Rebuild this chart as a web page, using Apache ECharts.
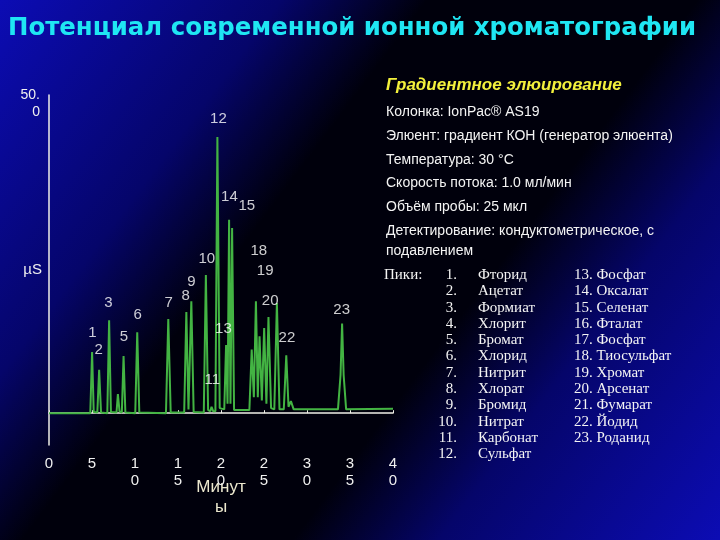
<!DOCTYPE html>
<html>
<head>
<meta charset="utf-8">
<script src="https://cdn.jsdelivr.net/npm/echarts@6/dist/echarts.min.js"></script>
<style>
  html, body { margin: 0; padding: 0; background: #000; }
  #chart { width: 720px; height: 540px; }
</style>
</head>
<body>
<div id="chart"></div>
<script>
  // chromatogram trace: [minutes, µS]
  var chromatogram = [
    [0, 0], [4.8, 0], [5.01, 9.6], [5.2, 0.2], [5.62, 0.1], [5.83, 6.8], [6.05, 0.1],
    [6.78, 0], [6.99, 14.6], [7.2, 0.2], [7.85, 0.1], [8.01, 3.0], [8.2, 0.3],
    [8.47, 0.1], [8.67, 9.0], [8.88, 0.1], [10.03, 0], [10.26, 12.7], [10.5, 0.1],
    [13.6, 0], [13.87, 14.8], [14.15, 0.1], [15.72, 0.1], [15.97, 15.9], [16.22, 0.6],
    [16.55, 17.6], [16.82, 0.2], [18.0, 0.1], [18.24, 21.7], [18.5, 0.5], [18.75, 0.3],
    [18.9, 1.0], [19.1, 0.3], [19.35, 0.3], [19.58, 43.4], [19.85, 0.8], [20.38, 0.6],
    [20.59, 10.7], [20.76, 1.5], [20.94, 30.4], [21.1, 1.5], [21.29, 29.1], [21.52, 0.5],
    [23.3, 0.5], [23.57, 10.0], [23.82, 2.5], [24.06, 17.6], [24.28, 2.5], [24.48, 12.1],
    [24.75, 2.0], [25.02, 13.4], [25.28, 1.5], [25.52, 15.1], [25.82, 0.8], [26.2, 0.6],
    [26.5, 17.3], [26.8, 0.6], [27.3, 0.6], [27.59, 9.1], [27.85, 1.0], [28.13, 1.9],
    [28.45, 0.6], [33.6, 0.6], [33.9, 6], [34.08, 14.1], [34.26, 6], [34.55, 0.6], [40, 0.7]
  ];

  // peak number labels: [minutes, µS, text]
  var peakLabels = [
    [5.06, 12.7, '1'], [5.79, 10.0, '2'], [6.92, 17.3, '3'], [8.71, 12.0, '5'],
    [10.3, 15.5, '6'], [13.91, 17.4, '7'], [15.9, 18.5, '8'], [16.55, 20.7, '9'],
    [18.34, 24.2, '10'], [19.0, 5.2, '11'], [19.7, 46.2, '12'], [20.28, 13.2, '13'],
    [20.98, 34.0, '14'], [23.0, 32.6, '15'], [24.4, 25.5, '18'], [25.14, 22.3, '19'],
    [25.72, 17.6, '20'], [27.67, 11.9, '22'], [34.03, 16.3, '23']
  ];

  var xTickValues = [0, 5, 10, 15, 20, 25, 30, 35, 40];
  var xTickLabels = ['0', '5', '1\n0', '1\n5', '2\n0', '2\n5', '3\n0', '3\n5', '4\n0'];

  var infoTitle = 'Градиентное элюирование';
  var infoLines = [
    'Колонка: IonPac® AS19',
    'Элюент: градиент КОН (генератор элюента)',
    'Температура: 30 °C',
    'Скорость потока: 1.0 мл/мин',
    'Объём пробы: 25 мкл',
    'Детектирование: кондуктометрическое, с',
    'подавлением'
  ];
  var infoLineY = [112, 136, 160, 183, 207, 231, 251];

  var peakNamesLeft = ['Фторид', 'Ацетат', 'Формиат', 'Хлорит', 'Бромат', 'Хлорид',
    'Нитрит', 'Хлорат', 'Бромид', 'Нитрат', 'Карбонат', 'Сульфат'];
  var peakNamesRight = ['Фосфат', 'Оксалат', 'Селенат', 'Фталат', 'Фосфат', 'Тиосульфат',
    'Хромат', 'Арсенат', 'Фумарат', 'Йодид', 'Роданид'];

  var sans = "'Liberation Sans', Arial, sans-serif";
  var serif = "'Liberation Serif', 'Times New Roman', serif";

  var graphics = [];
  graphics.push({
    type: 'text', x: 386, y: 85,
    style: { text: infoTitle, fill: '#f2f03c', font: 'italic bold 17px ' + sans, verticalAlign: 'middle' }
  });
  infoLines.forEach(function (line, i) {
    graphics.push({
      type: 'text', x: 386, y: infoLineY[i],
      style: { text: line, fill: '#f4f4f4', font: '14px ' + sans, verticalAlign: 'middle' }
    });
  });
  graphics.push({
    type: 'text', x: 384, y: 275,
    style: { text: 'Пики:', fill: '#f4f4f4', font: '15px ' + serif, verticalAlign: 'middle' }
  });
  var rowStep = 16.3;
  peakNamesLeft.forEach(function (name, i) {
    var y = 275 + i * rowStep;
    graphics.push({
      type: 'text', x: 457, y: y,
      style: { text: (i + 1) + '.', fill: '#f4f4f4', font: '15px ' + serif, align: 'right', verticalAlign: 'middle' }
    });
    graphics.push({
      type: 'text', x: 478, y: y,
      style: { text: name, fill: '#f4f4f4', font: '15px ' + serif, verticalAlign: 'middle' }
    });
  });
  peakNamesRight.forEach(function (name, i) {
    graphics.push({
      type: 'text', x: 574, y: 275 + i * rowStep,
      style: { text: (i + 13) + '. ' + name, fill: '#f4f4f4', font: '15px ' + serif, verticalAlign: 'middle' }
    });
  });

  var myChart = echarts.init(document.getElementById('chart'));
  myChart.setOption({
    animation: false,
    backgroundColor: {
      type: 'linear', x: 0, y: 0, x2: 1, y2: 1,
      colorStops: [
        { offset: 0, color: '#0c0cb4' },
        { offset: 0.25, color: '#05056a' },
        { offset: 0.38, color: '#00000c' },
        { offset: 0.62, color: '#00000c' },
        { offset: 0.75, color: '#05056a' },
        { offset: 1, color: '#0c0cb4' }
      ]
    },
    title: {
      text: 'Потенциал современной ионной хроматографии',
      left: 3,
      top: 12,
      textStyle: {
        color: '#1fe6f3',
        fontSize: 24.4,
        fontWeight: 'bold',
        fontFamily: "'DejaVu Sans', Verdana, sans-serif"
      }
    },
    grid: { left: 49, right: 327, top: 95, bottom: 95, outerBoundsMode: 'none' },
    xAxis: {
      type: 'value',
      min: 0,
      max: 40,
      interval: 5,
      name: 'Минут\nы',
      nameLocation: 'middle',
      nameGap: 32,
      nameMoveOverlap: false,
      nameTextStyle: { color: '#ece8cf', fontSize: 17, lineHeight: 20, fontFamily: sans },
      axisLine: { lineStyle: { color: '#f0f0e8', width: 1.5 } },
      axisTick: { show: true, inside: true, length: 3, lineStyle: { color: '#f0f0e8' } },
      splitLine: { show: false },
      axisLabel: {
        color: '#f0f0f0',
        fontSize: 15,
        lineHeight: 17,
        margin: 10,
        fontFamily: sans,
        formatter: function (v) {
          var i = xTickValues.indexOf(v);
          return i >= 0 ? xTickLabels[i] : '';
        }
      }
    },
    yAxis: {
      type: 'value',
      min: -5,
      max: 50,
      interval: 55,
      name: 'µS',
      nameLocation: 'middle',
      nameRotate: 0,
      nameGap: 7,
      nameMoveOverlap: false,
      nameTextStyle: { color: '#f0f0f0', fontSize: 15, fontFamily: sans, align: 'right' },
      axisLine: { show: true, lineStyle: { color: '#f0f0e8', width: 1.5 } },
      axisTick: { show: false },
      splitLine: { show: false },
      axisLabel: {
        color: '#f0f0f0',
        fontSize: 14,
        lineHeight: 17,
        margin: 9,
        fontFamily: sans,
        formatter: function (v) { return v === 50 ? '\n50.\n0' : ''; }
      }
    },
    graphic: graphics,
    series: [
      {
        name: 'trace',
        type: 'line',
        data: chromatogram,
        showSymbol: false,
        symbol: 'none',
        z: 2,
        lineStyle: { color: '#43b443', width: 2 }
      },
      {
        name: 'labels',
        type: 'scatter',
        data: peakLabels,
        symbolSize: 1,
        z: 5,
        itemStyle: { color: 'rgba(0,0,0,0)' },
        label: {
          show: true,
          position: 'inside',
          color: '#ffffff',
          fontSize: 15,
          fontFamily: sans,
          formatter: function (p) { return p.value[2]; }
        }
      }
    ]
  });
</script>
</body>
</html>
